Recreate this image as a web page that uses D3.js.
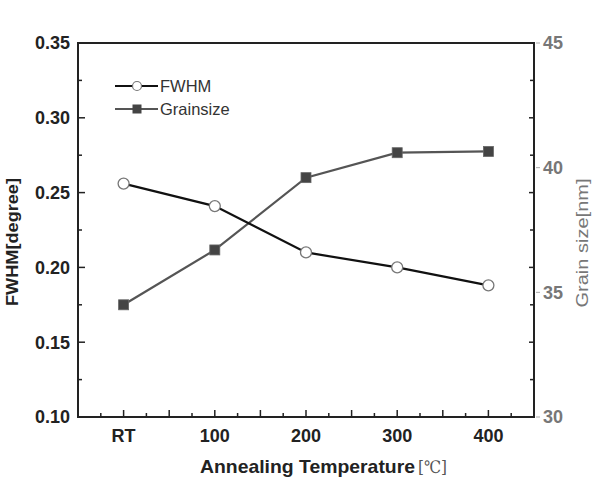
<!DOCTYPE html>
<html>
<head>
<meta charset="utf-8">
<script src="https://cdn.jsdelivr.net/npm/d3@7"></script>
<style>
  body { margin: 0; background: #fff; }
  svg { display: block; font-family: Arial, "Liberation Sans", sans-serif; }
</style>
</head>
<body>
<div id="chart"></div>
<script>
const temps = [0, 100, 200, 300, 400];
const tempLabels = ['RT', '100', '200', '300', '400'];
const fwhm = [0.256, 0.241, 0.210, 0.200, 0.188];
const grain = [34.5, 36.7, 39.6, 40.6, 40.65];
const leftTicks = [0.10, 0.15, 0.20, 0.25, 0.30, 0.35];
const rightTicks = [30, 35, 40, 45];

const width = 595, height = 483;
const margin = { top: 43, right: 61, bottom: 66, left: 78 };
const in_wi = width - margin.left - margin.right;
const in_he = height - margin.top - margin.bottom;

const svg = d3.select('#chart').append('svg')
  .attr('width', width)
  .attr('height', height);

const g = svg.append('g')
  .attr('transform', `translate(${margin.left},${margin.top})`);

const x_sc = d3.scaleLinear().domain([-50, 450]).range([0, in_wi]);
const y_le = d3.scaleLinear().domain([0.10, 0.35]).range([in_he, 0]);
const y_ri = d3.scaleLinear().domain([30, 45]).range([in_he, 0]);

// frame
g.append('rect')
  .attr('width', in_wi).attr('height', in_he)
  .attr('fill', 'none').attr('stroke', '#222').attr('stroke-width', 2);

// bottom ticks (inward)
const xMinor = d3.range(-25, 450, 25);
g.selectAll('.xt').data(xMinor).enter().append('line')
  .attr('x1', d => x_sc(d)).attr('x2', d => x_sc(d))
  .attr('y1', in_he)
  .attr('y2', d => in_he - (d % 50 === 0 ? 7 : 4))
  .attr('stroke', '#222').attr('stroke-width', 1.5);

g.selectAll('.xl').data(temps).enter().append('text')
  .attr('x', d => x_sc(d)).attr('y', in_he + 25)
  .attr('text-anchor', 'middle')
  .attr('font-size', 18).attr('font-weight', 'bold').attr('fill', '#222')
  .text((d, i) => tempLabels[i]);

// left ticks (inward)
const yMinor = d3.range(0.125, 0.35, 0.025);
g.selectAll('.ylt').data(yMinor).enter().append('line')
  .attr('x1', 0).attr('y1', d => y_le(d)).attr('y2', d => y_le(d))
  .attr('x2', (d, i) => i % 2 === 1 ? 7 : 4)
  .attr('stroke', '#222').attr('stroke-width', 1.5);

// right ticks (inward, mirrored)
g.selectAll('.yrt').data(yMinor).enter().append('line')
  .attr('x1', in_wi).attr('y1', d => y_le(d)).attr('y2', d => y_le(d))
  .attr('x2', (d, i) => in_wi - (i % 2 === 1 ? 5 : 4))
  .attr('stroke', '#222').attr('stroke-width', 1.5);

g.selectAll('.yll').data(leftTicks).enter().append('text')
  .attr('x', -8).attr('y', d => y_le(d)).attr('dy', '0.35em')
  .attr('text-anchor', 'end')
  .attr('font-size', 18).attr('font-weight', 'bold').attr('fill', '#222')
  .text(d => d.toFixed(2));

// right labels
g.selectAll('.yro').data(rightTicks).enter().append('line')
  .attr('x1', in_wi + 2).attr('x2', in_wi + 6)
  .attr('y1', d => y_ri(d)).attr('y2', d => y_ri(d))
  .attr('stroke', '#aaa').attr('stroke-width', 1);

g.selectAll('.yrl').data(rightTicks).enter().append('text')
  .attr('x', in_wi + 9).attr('y', d => y_ri(d)).attr('dy', '0.35em')
  .attr('font-size', 18).attr('font-weight', 'bold').attr('fill', '#777')
  .text(d => d);

// axis titles
svg.append('text')
  .attr('x', 200).attr('y', 473)
  .attr('font-size', 19).attr('font-weight', 'bold').attr('fill', '#222')
  .attr('textLength', 215).attr('lengthAdjust', 'spacingAndGlyphs')
  .text('Annealing Temperature');

svg.append('text')
  .attr('x', 418).attr('y', 473)
  .attr('font-family', '"DejaVu Serif", serif').attr('fill', '#555').attr('font-size', 17)
  .attr('textLength', 29).attr('lengthAdjust', 'spacingAndGlyphs')
  .text('[℃]');

svg.append('text')
  .attr('transform', 'translate(18,242) rotate(-90)')
  .attr('text-anchor', 'middle')
  .attr('font-size', 16).attr('font-weight', 'bold').attr('fill', '#222')
  .attr('textLength', 128).attr('lengthAdjust', 'spacingAndGlyphs')
  .text('FWHM[degree]');

svg.append('text')
  .attr('transform', 'translate(588,243) rotate(-90)')
  .attr('text-anchor', 'middle')
  .attr('font-size', 16).attr('fill', '#777')
  .attr('textLength', 129).attr('lengthAdjust', 'spacingAndGlyphs')
  .text('Grain size[nm]');

// lines
const li_fw = d3.line().x((d, i) => x_sc(temps[i])).y(d => y_le(d));
const li_gr = d3.line().x((d, i) => x_sc(temps[i])).y(d => y_ri(d));

g.append('path').datum(grain)
  .attr('d', li_gr).attr('fill', 'none')
  .attr('stroke', '#555').attr('stroke-width', 2.2);

g.append('path').datum(fwhm)
  .attr('d', li_fw).attr('fill', 'none')
  .attr('stroke', '#111').attr('stroke-width', 2.2);

g.selectAll('.sq').data(grain).enter().append('rect')
  .attr('x', (d, i) => x_sc(temps[i]) - 5)
  .attr('y', d => y_ri(d) - 5)
  .attr('width', 10).attr('height', 10)
  .attr('fill', '#444').attr('stroke', '#666').attr('stroke-width', 0.8);

g.selectAll('.ci').data(fwhm).enter().append('circle')
  .attr('cx', (d, i) => x_sc(temps[i]))
  .attr('cy', d => y_le(d))
  .attr('r', 5.5)
  .attr('fill', '#fff').attr('stroke', '#777').attr('stroke-width', 1.3);

// legend
const legend = [
  { label: 'FWHM', y: 86, color: '#111', marker: 'circle' },
  { label: 'Grainsize', y: 109, color: '#555', marker: 'square' }
];
const lg = svg.append('g');
legend.forEach(d => {
  lg.append('line')
    .attr('x1', 115).attr('x2', 158).attr('y1', d.y).attr('y2', d.y)
    .attr('stroke', d.color).attr('stroke-width', 2.2);
  if (d.marker === 'circle') {
    lg.append('circle').attr('cx', 137).attr('cy', d.y).attr('r', 4.5)
      .attr('fill', '#fff').attr('stroke', '#777').attr('stroke-width', 1.2);
  } else {
    lg.append('rect').attr('x', 132.5).attr('y', d.y - 4.5)
      .attr('width', 9).attr('height', 9).attr('fill', '#444');
  }
  lg.append('text')
    .attr('x', 160).attr('y', d.y).attr('dy', '0.35em')
    .attr('font-size', 16.5).attr('fill', '#333')
    .text(d.label);
});
</script>
</body>
</html>
